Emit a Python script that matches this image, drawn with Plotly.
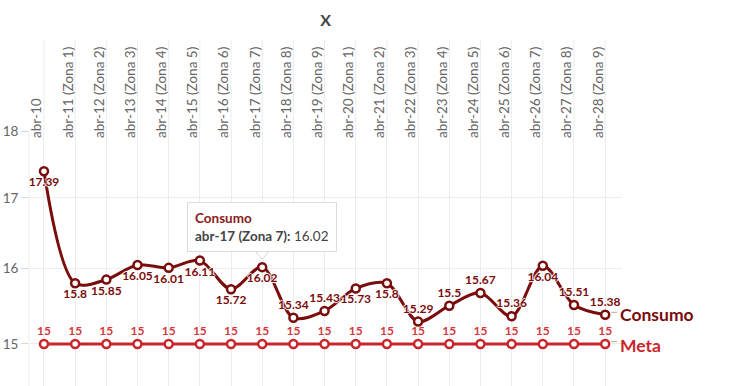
import math
import plotly.graph_objects as go

categories = ["abr-10", "abr-11 (Zona 1)", "abr-12 (Zona 2)", "abr-13 (Zona 3)", "abr-14 (Zona 4)",
              "abr-15 (Zona 5)", "abr-16 (Zona 6)", "abr-17 (Zona 7)", "abr-18 (Zona 8)",
              "abr-19 (Zona 9)", "abr-20 (Zona 1)", "abr-21 (Zona 2)", "abr-22 (Zona 3)",
              "abr-23 (Zona 4)", "abr-24 (Zona 5)", "abr-25 (Zona 6)", "abr-26 (Zona 7)",
              "abr-27 (Zona 8)", "abr-28 (Zona 9)"]
consumo = [17.39, 15.8, 15.85, 16.05, 16.01, 16.11, 15.72, 16.02, 15.34, 15.43,
           15.73, 15.8, 15.29, 15.5, 15.67, 15.36, 16.04, 15.51, 15.38]
meta = [15] * len(categories)
consumo_label_pos = ["bottom center"] * 8 + ["top center", "top center", "bottom center",
                     "bottom center", "top center", "top center", "top center", "top center",
                     "bottom center", "top center", "top center"]
y_ticks = [15, 16, 17, 18]

C_DARK = "#7a0c0c"
C_RED = "#c8262c"
FONT = "Lato"
halo = "1px 0 1px #fff, -1px 0 1px #fff, 0 1px 1px #fff, 0 -1px 1px #fff"
last = len(categories) - 1
tip = categories.index("abr-17 (Zona 7)")

fig = go.Figure()
fig.add_trace(go.Scatter(
    x=categories, y=meta, name="Meta", mode="lines+markers+text",
    line=dict(color=C_RED, width=3),
    marker=dict(symbol="circle", size=8, color="white", line=dict(color=C_RED, width=2.5)),
    text=[str(v) for v in meta], textposition="top center",
    textfont=dict(family=FONT, size=12, color="#d33a40", weight="bold", shadow=halo),
    hoverinfo="skip", cliponaxis=False,
))
fig.add_trace(go.Scatter(
    x=categories, y=consumo, name="Consumo", mode="lines+markers+text",
    line=dict(color=C_DARK, width=3, shape="spline", smoothing=0.9),
    marker=dict(symbol="circle", size=8, color="white", line=dict(color=C_DARK, width=2.5)),
    text=[f"{v:g}" for v in consumo], textposition=consumo_label_pos,
    textfont=dict(family=FONT, size=12, color=C_DARK, weight="bold", shadow=halo),
    hoverinfo="skip", cliponaxis=False,
))

shapes = []
shapes.append(dict(type="line", xref="paper", yref="paper", x0=0, x1=0, y0=0, y1=1,
                   line=dict(color="#ececec", width=1), layer="below"))
for i in range(len(categories)):
    shapes.append(dict(type="line", xref="x", yref="paper", x0=i, x1=i, y0=1, y1=1.357,
                       line=dict(color="#ececec", width=1), layer="below"))
for ser in (consumo, meta):
    shapes.append(dict(type="rect", xref="x", yref="y", xsizemode="pixel", ysizemode="pixel",
                       xanchor=last, yanchor=ser[-1], x0=6, x1=12, y0=-4, y1=3,
                       fillcolor="#b5b5b5", line=dict(width=0), layer="above"))
shapes.append(dict(type="path", xref="x", yref="y", xsizemode="pixel", ysizemode="pixel",
                   xanchor=tip, yanchor=consumo[tip],
                   path="M -8,17 L 0,8 L 8,17 Z", fillcolor="white",
                   line=dict(color="#d4d4d4", width=1), layer="above"))

annotations = [
    dict(x=last, y=math.log10(consumo[-1]), xref="x", yref="y", text="<b>Consumo</b>",
         showarrow=False, xanchor="left", yanchor="middle", xshift=13,
         font=dict(family=FONT, size=17.5, color=C_DARK)),
    dict(x=last, y=math.log10(meta[-1]), xref="x", yref="y", text="<b>Meta</b>",
         showarrow=False, xanchor="left", yanchor="middle", xshift=13, yshift=-2,
         font=dict(family=FONT, size=17.5, color=C_RED)),
    dict(x=tip, y=math.log10(consumo[tip]), xref="x", yref="y",
         text=(f"<b><span style='color:#8b1a1a'>Consumo</span></b><br>"
               f"<b>{categories[tip]}:</b> {consumo[tip]:g}"),
         showarrow=False, xanchor="center", yanchor="bottom", xshift=0, yshift=15,
         align="left", bgcolor="white", bordercolor="#dcdcdc", borderwidth=1, borderpad=7,
         font=dict(family=FONT, size=13.5, color="#444")),
]

fig.update_layout(
    width=734, height=386,
    margin=dict(l=29, r=112, t=131, b=0),
    paper_bgcolor="white", plot_bgcolor="white",
    showlegend=False,
    font=dict(family=FONT),
    shapes=shapes, annotations=annotations,
    hovermode=False,
)
fig.update_xaxes(
    type="category", side="top", tickangle=-90, range=[-0.48, 18.54], automargin=False,
    showgrid=True, gridcolor="#ececec", gridwidth=1, showline=False, zeroline=False,
    ticks="", tickfont=dict(family=FONT, size=13.5, color="#666"), ticklabelshift=-7,
    ticklabelstandoff=-8,
    title=dict(text="<b>X</b>", font=dict(family=FONT, size=16, color="#444"), standoff=16),
)
fig.update_yaxes(
    type="log", range=[math.log10(14.47), math.log10(18)], automargin=False,
    tickvals=y_ticks, ticktext=[str(v) for v in y_ticks],
    showgrid=True, gridcolor="#ececec", gridwidth=1, zeroline=False, showline=False,
    ticks="outside", ticklen=7, tickcolor="#d8d8d8",
    tickfont=dict(family=FONT, size=13.5, color="#666"),
)

fig.write_html("out.html", post_script="document.body.style.margin='0';",
               config={"displayModeBar": False})
